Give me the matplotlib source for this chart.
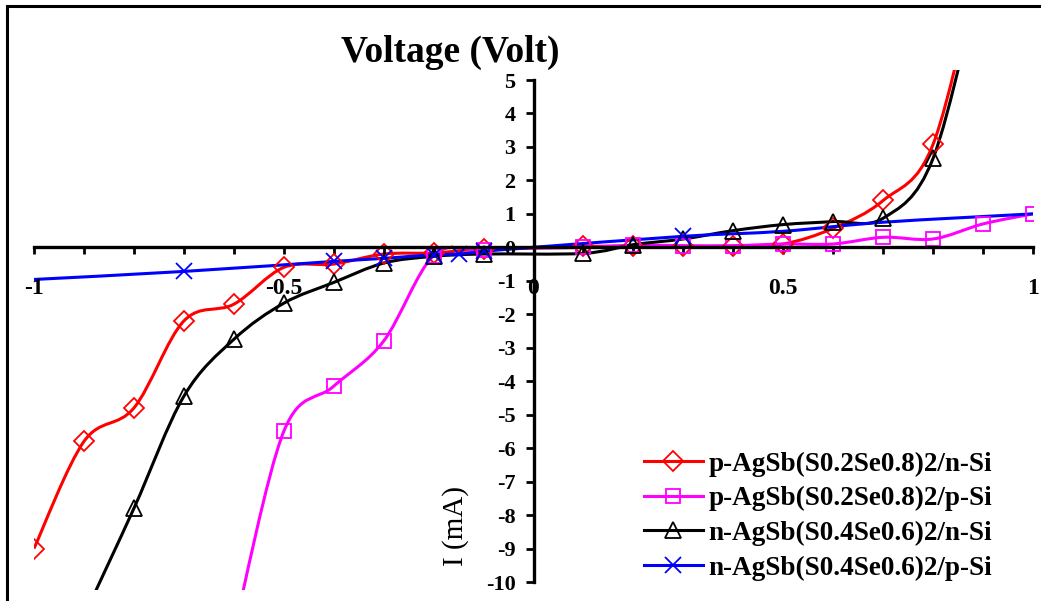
import matplotlib
matplotlib.use('Agg')
import matplotlib.pyplot as plt
from matplotlib.path import Path
from matplotlib.patches import PathPatch, Rectangle
from matplotlib.lines import Line2D
from matplotlib.ticker import MultipleLocator

# Dữ liệu
red_x = [-1, -0.9, -0.8, -0.7, -0.6, -0.5, -0.4, -0.3, -0.2, -0.1, 0.1, 0.2, 0.3, 0.4, 0.5, 0.6, 0.7, 0.8, 0.9]
red_y = [-9.0, -5.8, -4.8, -2.2, -1.7, -0.6, -0.5, -0.2, -0.17, -0.05, 0.03, 0.03, 0.03, 0.03, 0.1, 0.57, 1.4, 3.08, 9.0]

pink_x = [-0.6, -0.5, -0.4, -0.3, -0.2, -0.1, 0.1, 0.2, 0.3, 0.4, 0.5, 0.6, 0.7, 0.8, 0.9, 1.0]
pink_y = [-11.5, -5.5, -4.15, -2.8, -0.25, -0.07, 0.0, 0.06, 0.05, 0.05, 0.1, 0.1, 0.3, 0.25, 0.7, 1.0]

black_x = [-1, -0.9, -0.8, -0.7, -0.6, -0.5, -0.4, -0.3, -0.2, -0.1, 0.1, 0.2, 0.3, 0.4, 0.5, 0.6, 0.7, 0.8, 0.9]
black_y = [-14.0, -11.0, -7.8, -4.45, -2.75, -1.67, -1.05, -0.47, -0.27, -0.2, -0.18, 0.08, 0.25, 0.5, 0.68, 0.77, 0.87, 2.66, 8.5]

blue_x = [-1, -0.7, -0.4, -0.3, -0.2, -0.15, -0.1, 0, 0.3, 0.5, 0.7, 1.0]
blue_y = [-0.96, -0.72, -0.42, -0.33, -0.22, -0.2, -0.12, 0, 0.33, 0.48, 0.75, 1.0]
blue_marks = [1, 2, 3, 4, 5, 6, 8]

labels = ['p-AgSb(S0.2Se0.8)2/n-Si', 'p-AgSb(S0.2Se0.8)2/p-Si',
          'n-AgSb(S0.4Se0.6)2/n-Si', 'n-AgSb(S0.4Se0.6)2/p-Si']
xtick_vals = [-1, -0.5, 0, 0.5, 1]
xtick_labels = ['-1', '-0.5', '0', '0.5', '1']
ytick_vals = list(range(-10, 6))
ytick_labels = [str(v) for v in ytick_vals]

plt.rcParams['font.family'] = ['Liberation Serif', 'DejaVu Serif']


def smooth_path(xs, ys):
    # đường cong mượt kiểu Excel (Bezier bậc 3)
    pts = list(zip(xs, ys))
    n = len(pts)
    verts = [pts[0]]
    codes = [Path.MOVETO]
    for i in range(n - 1):
        p0 = pts[i - 1] if i > 0 else pts[i]
        p1 = pts[i]
        p2 = pts[i + 1]
        p3 = pts[i + 2] if i + 2 < n else pts[i + 1]
        c1 = (p1[0] + (p2[0] - p0[0]) / 6, p1[1] + (p2[1] - p0[1]) / 6)
        c2 = (p2[0] - (p3[0] - p1[0]) / 6, p2[1] - (p3[1] - p1[1]) / 6)
        verts += [c1, c2, p2]
        codes += [Path.CURVE4] * 3
    return Path(verts, codes)


fig = plt.figure(figsize=(10.41, 6.01), dpi=100)
ax = fig.add_axes([34 / 1041, 1 - 582 / 601, 999 / 1041, 502 / 601])
ax.set_xlim(-1, 1)
ax.set_ylim(-10, 5)

clip = Rectangle((0, -0.015), 1, 1.035, transform=ax.transAxes)

series = [
    (red_x, red_y, 'red', 'D', 10, None),
    (pink_x, pink_y, '#ff00ff', 's', 10, None),
    (black_x, black_y, 'black', '^', 11, None),
    (blue_x, blue_y, '#0000ff', 'x', 11, blue_marks),
]

handles = []
for (xs, ys, c, m, ms, every), lab in zip(series, labels):
    patch = PathPatch(smooth_path(xs, ys), fill=False, edgecolor=c, lw=2.2)
    ax.add_patch(patch)
    patch.set_clip_path(clip)
    ax.plot(xs, ys, ls='none', marker=m, ms=ms, mfc='none', mec=c, mew=1.3,
            markevery=every)
    handles.append(Line2D([], [], color=c, lw=2.2, marker=m, ms=ms, mfc='none',
                          mec=c, mew=1.3, label=lab))

# trục cắt nhau tại gốc tọa độ
ax.spines['left'].set_position(('data', 0))
ax.spines['bottom'].set_position(('data', 0))
ax.spines['top'].set_visible(False)
ax.spines['right'].set_visible(False)
ax.spines['left'].set_linewidth(2.4)
ax.spines['bottom'].set_linewidth(2.4)

ax.set_xticks(xtick_vals)
ax.set_xticklabels(xtick_labels, fontsize=17, fontweight='bold')
ax.xaxis.set_minor_locator(MultipleLocator(0.1))
ax.set_yticks(ytick_vals)
ax.set_yticklabels(ytick_labels, fontsize=16, fontweight='bold')
ax.tick_params(axis='x', which='both', direction='out', length=5, width=2, pad=17)
ax.tick_params(axis='y', direction='out', length=6, width=2, pad=7)
ax.patch.set_visible(False)

fig.text(450 / 1041, 1 - 52 / 601, 'Voltage (Volt)', fontsize=27,
         fontweight='bold', ha='center', va='center')
fig.text(456 / 1041, 1 - 526 / 601, 'I (mA)', fontsize=21, rotation=90,
         ha='center', va='center')

fig.legend(handles=handles, loc='upper left', bbox_to_anchor=(630 / 1041, 1 - 438 / 601),
           frameon=False, borderpad=0, handlelength=2.2, handletextpad=0.2,
           labelspacing=0.35, prop={'weight': 'bold', 'size': 19.5})

# khung viền
fig.add_artist(Rectangle((7 / 1041, -0.1), 1.2, 1.1 - 5.5 / 601, transform=fig.transFigure,
                         fill=False, ec='black', lw=2.2))

fig.savefig('out.png', dpi=100)
